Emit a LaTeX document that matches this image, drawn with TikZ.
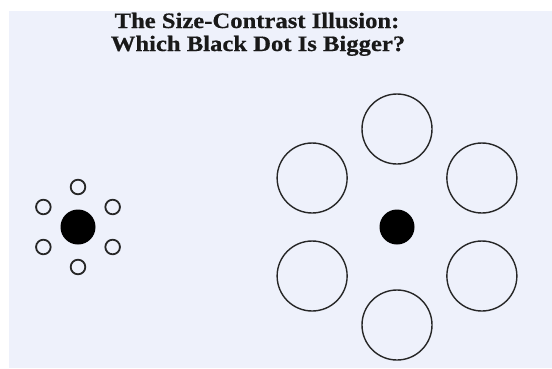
\documentclass[tikz,border=0pt]{standalone}
\usepackage{fontspec}
\setmainfont{Liberation Serif}
\newfontfamily\titlefont[FakeStretch=1.12, FakeBold=0.6]{Liberation Serif Bold}
\definecolor{bgpanel}{RGB}{238,241,251}
\begin{document}
\begin{tikzpicture}[x=1pt,y=-1pt,
  ring/.style={circle, draw=black!85, fill=none, inner sep=0pt},
  smallring/.style={ring, line width=1.8pt, minimum size=14.6pt},
  bigring/.style={ring, line width=1.4pt, minimum size=70pt},
  blackdot/.style={circle, fill=black, inner sep=0pt, minimum size=35pt},
  title/.style={font=\fontsize{22}{24}\titlefont, anchor=base, inner sep=0pt, text=black!90},
  ]
  \useasboundingbox (0,0) rectangle (552,368);
  %%% background panel %%%
  \fill[bgpanel] (9,11) rectangle (552,368);

  %%% title lines %%%
  \node[title] (titleA) at (257,28) {The Size-Contrast Illusion:};
  \node[title] (titleB) at (258,51) {Which Black Dot Is Bigger?};

  %%% left dot with small surround %%%
  \node[blackdot] (leftdot) at (78,227) {};
  \foreach \a [count=\i] in {90,30,-30,-90,-150,150}
    \path (leftdot) ++(\a:40) node[smallring] (small\i) {};

  %%% right dot with large surround %%%
  \node[blackdot] (rightdot) at (397,227) {};
  \foreach \a [count=\i] in {90,30,-30,-90,-150,150}
    \path (rightdot) ++(\a:98) node[bigring] (big\i) {};
\end{tikzpicture}
\end{document}
